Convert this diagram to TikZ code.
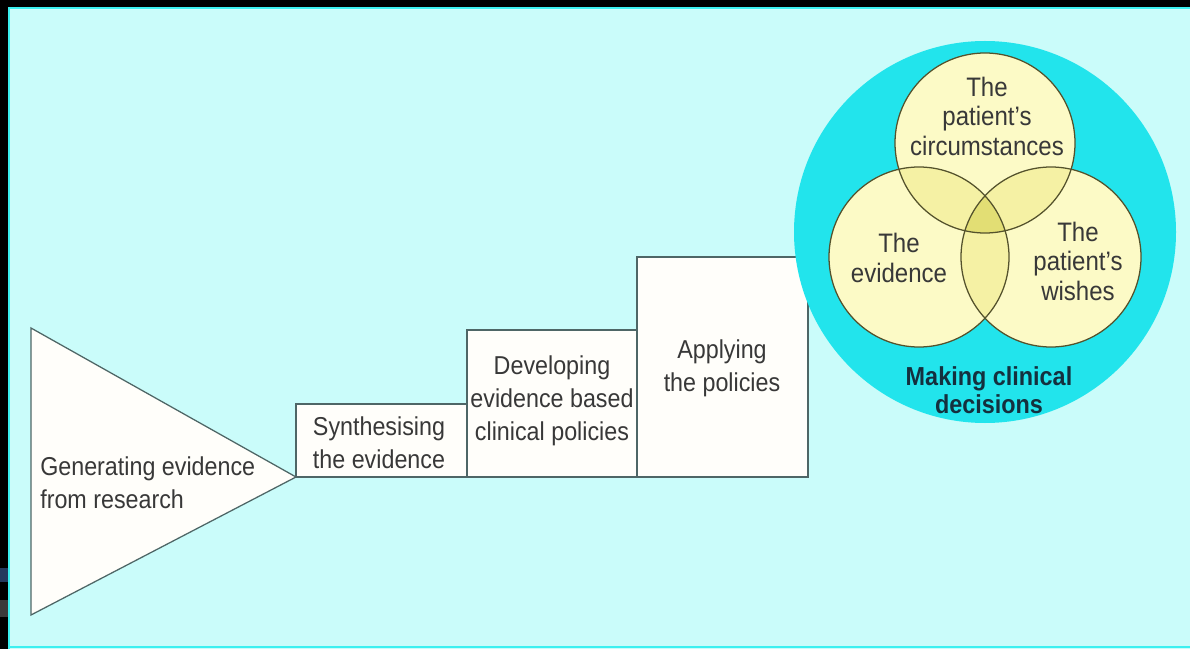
\documentclass[tikz,border=0pt]{standalone}
\usepackage{fontspec}
\setmainfont{Liberation Sans}[FakeStretch=0.9]
\definecolor{bgcyan}{HTML}{CAFCFA}
\definecolor{edgecyan}{HTML}{3CF0F0}
\definecolor{bigcyan}{HTML}{22E4EC}
\definecolor{boxwhite}{HTML}{FFFEFA}
\definecolor{boxline}{HTML}{4E6666}
\definecolor{inkgrey}{HTML}{383838}
\definecolor{titleink}{HTML}{14303E}
\definecolor{singleyellow}{HTML}{FCFAC6}
\definecolor{pairyellow}{HTML}{F5F1A4}
\definecolor{tripleyellow}{HTML}{E2DE74}
\definecolor{vennline}{HTML}{54522C}
\definecolor{navyblot}{HTML}{243A5E}
\definecolor{greyblot}{HTML}{3A3A3A}
\begin{document}
\begin{tikzpicture}[x=0.025cm,y=-0.025cm]
    \tikzstyle{every node}+=[inner sep=0pt]
    \tikzstyle{steptext}=[text=inkgrey, align=center, font=\fontsize{18.4}{23.5}\selectfont]
    \tikzstyle{venntext}=[text=inkgrey, align=center, font=\fontsize{19}{21}\selectfont]
    \useasboundingbox (0,0) rectangle (1190,649);
    \fill [black] (0,0) rectangle (1190,649);
    \fill [bgcyan] (8,7) rectangle (1190,649);
    \draw [edgecyan, line width=1.4pt] (9,649) -- (9,8) -- (1190,8);
    \draw [edgecyan, line width=1.4pt] (9,647) -- (1190,647);
    \fill [navyblot] (0,568) rectangle (8,582);
    \fill [greyblot] (0,600) rectangle (8,617);
    % the steps
    \coordinate (tip) at (296,477);
    \draw [boxline, fill=boxwhite, line width=0.9pt] (31,328) -- (tip) -- (31,615) -- cycle;
    \draw [boxline, fill=boxwhite, line width=0.9pt] (tip) rectangle (467,404);
    \draw [boxline, fill=boxwhite, line width=0.9pt] (467,477) rectangle (637,330);
    \draw [boxline, fill=boxwhite, line width=0.9pt] (637,477) rectangle (808,257);
    \node (research) [steptext, align=left, anchor=west] at (40,483) {Generating evidence\\from research};
    \node (synth) [steptext] at (379,443) {Synthesising\\the evidence};
    \node (develop) [steptext] at (552,401) {Developing\\evidence based\\clinical policies};
    \node (apply) [steptext] at (722,368) {Applying\\the policies};
    % making clinical decisions
    \fill [bigcyan] (985,232) circle (191);
    \coordinate (circ) at (985,143);
    \coordinate (evid) at (919,257);
    \coordinate (wish) at (1051,257);
    \fill [singleyellow] (circ) circle (90);
    \fill [singleyellow] (evid) circle (90);
    \fill [singleyellow] (wish) circle (90);
    \begin{scope}
        \clip (circ) circle (90);
        \fill [pairyellow] (evid) circle (90);
        \fill [pairyellow] (wish) circle (90);
    \end{scope}
    \begin{scope}
        \clip (evid) circle (90);
        \fill [pairyellow] (wish) circle (90);
    \end{scope}
    \begin{scope}
        \clip (circ) circle (90);
        \clip (evid) circle (90);
        \fill [tripleyellow] (wish) circle (90);
    \end{scope}
    \draw [vennline, line width=0.9pt] (circ) circle (90);
    \draw [vennline, line width=0.9pt] (evid) circle (90);
    \draw [vennline, line width=0.9pt] (wish) circle (90);
    \node (circtext) [venntext] at (987,116) {The\\patient's\\circumstances};
    \node (evidtext) [venntext] at (899,258) {The\\evidence};
    \node (wishtext) [venntext] at (1078,261) {The\\patient's\\wishes};
    \node (decide) [text=titleink, align=center, font=\bfseries\fontsize{18.5}{20}\selectfont] at (989,390) {Making clinical\\decisions};
\end{tikzpicture}
\end{document}
